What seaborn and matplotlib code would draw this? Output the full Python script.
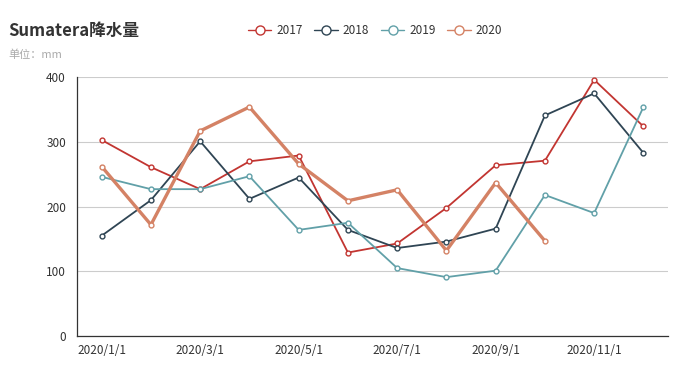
import matplotlib
matplotlib.use("Agg")
import matplotlib.pyplot as plt
import seaborn as sns
import pandas as pd
from matplotlib.lines import Line2D

months = ["2020/1/1", "2020/2/1", "2020/3/1", "2020/4/1", "2020/5/1", "2020/6/1",
          "2020/7/1", "2020/8/1", "2020/9/1", "2020/10/1", "2020/11/1", "2020/12/1"]
rain_2017 = [303, 261, 227, 270, 279, 129, 143, 198, 264, 271, 396, 324]
rain_2018 = [155, 210, 301, 212, 245, 164, 136, 146, 166, 341, 375, 283]
rain_2019 = [246, 227, 227, 247, 164, 175, 105, 91, 101, 218, 190, 354]
rain_2020 = [262, 172, 317, 354, 266, 209, 226, 132, 237, 147, None, None]

series = {"2017": rain_2017, "2018": rain_2018, "2019": rain_2019, "2020": rain_2020}
colors = {"2017": "#c23531", "2018": "#2f4554", "2019": "#61a0a8", "2020": "#d48265"}
widths = {"2017": 1.3, "2018": 1.3, "2019": 1.3, "2020": 2.4}

sns.set_style("white")
plt.rcParams["font.family"] = ["Noto Sans CJK SC", "DejaVu Sans"]

fig = plt.figure(figsize=(6.88, 3.75), dpi=100)
ax = fig.add_axes([0.112, 0.104, 0.859, 0.690])

x = list(range(len(months)))
for name, vals in series.items():
    df = pd.DataFrame({"x": x, "y": vals}).dropna()
    sns.lineplot(data=df, x="x", y="y", ax=ax, color=colors[name], lw=widths[name],
                 marker="o", markersize=3.5, markerfacecolor="white",
                 markeredgecolor=colors[name], markeredgewidth=1.0, zorder=3)

ax.set_xlim(-0.5, len(months) - 0.5)
ax.set_ylim(0, 400)
ax.set_yticks([0, 100, 200, 300, 400])
ax.set_xticks(x[::2])
ax.set_xticklabels(months[::2])
ax.set_xticks(x[1::2], minor=True)
ax.tick_params(axis="x", which="major", length=0, pad=6, labelsize=8.5, labelcolor="#333333")
ax.tick_params(axis="x", which="minor", length=4, color="#333333", direction="out")
ax.tick_params(axis="y", length=4, color="#333333", labelsize=8.5, labelcolor="#333333", pad=4)
ax.set_xlabel("")
ax.set_ylabel("")
ax.yaxis.grid(True, color="#cccccc", lw=0.8)
ax.set_axisbelow(True)
for s in ["top", "right"]:
    ax.spines[s].set_visible(False)
for s in ["left", "bottom"]:
    ax.spines[s].set_color("#333333")
    ax.spines[s].set_linewidth(0.9)

fig.text(0.012, 0.905, "Sumatera降水量", fontsize=12, fontweight="bold", color="#333333")
fig.text(0.012, 0.845, "单位：mm", fontsize=8, color="#aaaaaa")

handles = [Line2D([0], [0], color=colors[n], lw=1.0, marker="o", markersize=6.5,
                  markerfacecolor="white", markeredgecolor=colors[n], markeredgewidth=1.0)
           for n in series]
fig.legend(handles, list(series.keys()), loc="center", bbox_to_anchor=(0.545, 0.918), ncol=4,
           frameon=False, fontsize=8.5, handlelength=2.0, handletextpad=0.4, columnspacing=1.0,
           labelcolor="#333333")

fig.savefig("out.png", dpi=100)
